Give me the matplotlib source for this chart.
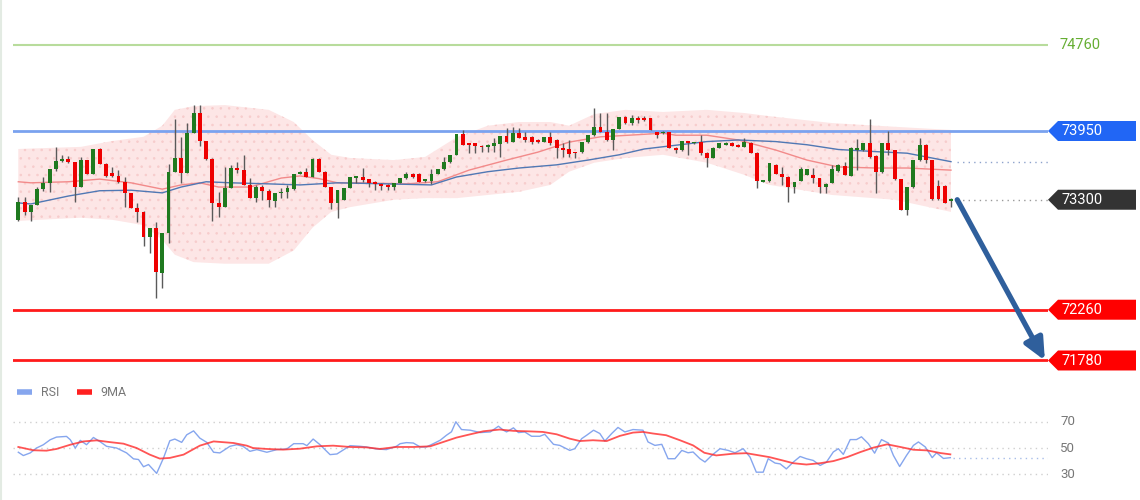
import numpy as np
import matplotlib
matplotlib.use("Agg")
import matplotlib.pyplot as plt
from matplotlib import patches, transforms

plt.rcParams['font.family'] = ['Roboto', 'DejaVu Sans']
plt.rcParams['hatch.linewidth'] = 0.6

# ---------------- data ----------------
opens = [73110, 73280, 73185, 73250, 73400, 73460, 73590, 73665, 73685, 73655,
         73420, 73675, 73545, 73780, 73640, 73550, 73525, 73470, 73365, 73225,
         73185, 72950, 73035, 72610, 72990, 73565, 73695, 73555, 73930, 74120,
         73855, 73685, 73270, 73230, 73410, 73600, 73580, 73440, 73315, 73420,
         73385, 73290, 73365, 73370, 73400, 73545, 73565, 73515, 73685, 73565,
         73420, 73270, 73300, 73410, 73505, 73515, 73495, 73470, 73450, 73440,
         73420, 73460, 73505, 73545, 73545, 73480, 73475, 73545, 73590, 73655,
         73720, 73920, 73835, 73835, 73805, 73795, 73805, 73825, 73900, 73845,
         73930, 73890, 73895, 73865, 73845, 73895, 73865, 73790, 73780, 73750,
         73750, 73845, 73910, 73990, 73940, 73865, 73970, 74080, 74025, 74070,
         74070, 74070, 73940, 73930, 73940, 73790, 73770, 73855, 73835, 73845,
         73745, 73695, 73790, 73820, 73835, 73815, 73800, 73840, 73745, 73470,
         73475, 73630, 73545, 73515, 73420, 73480, 73535, 73535, 73505, 73420,
         73460, 73570, 73620, 73525, 73775, 73770, 73835, 73715, 73560, 73835,
         73770, 73495, 73205, 73420, 73675, 73820, 73675, 73430, 73430, 73285]
highs = [73330, 73325, 73250, 73420, 73515, 73590, 73800, 73720, 73710, 73660,
         73705, 73680, 73780, 73785, 73645, 73610, 73580, 73515, 73365, 73270,
         73190, 73035, 73090, 72990, 73640, 74065, 73895, 74025, 74195, 74195,
         73860, 73690, 73375, 73610, 73630, 73660, 73725, 73505, 73440, 73440,
         73400, 73365, 73410, 73440, 73545, 73570, 73600, 73690, 73690, 73570,
         73425, 73395, 73415, 73515, 73520, 73600, 73500, 73475, 73455, 73445,
         73460, 73510, 73560, 73550, 73550, 73500, 73590, 73595, 73705, 73725,
         73925, 73960, 73840, 73840, 73815, 73830, 73880, 73905, 73980, 73990,
         73980, 73940, 73900, 73870, 73895, 73940, 73870, 73835, 73865, 73755,
         73850, 73915, 74170, 74120, 74120, 73970, 74085, 74090, 74100, 74090,
         74090, 74075, 73945, 73950, 73945, 73795, 73860, 73860, 73850, 73910,
         73750, 73795, 73840, 73845, 73845, 73825, 73885, 73845, 73750, 73490,
         73650, 73635, 73610, 73520, 73470, 73610, 73595, 73600, 73510, 73455,
         73630, 73635, 73660, 73795, 73875, 73840, 74065, 73720, 73840, 73950,
         73775, 73500, 73425, 73680, 73885, 73825, 73680, 73485, 73435, 73315]
lows = [73100, 73155, 73100, 73250, 73385, 73375, 73570, 73655, 73650, 73280,
        73420, 73540, 73540, 73635, 73515, 73515, 73460, 73230, 73220, 73090,
        72865, 72795, 72370, 72465, 72890, 73560, 73460, 73550, 73930, 73810,
        73680, 73100, 73140, 73230, 73410, 73555, 73440, 73315, 73280, 73300,
        73230, 73230, 73315, 73320, 73395, 73540, 73515, 73515, 73560, 73420,
        73215, 73130, 73300, 73410, 73460, 73470, 73420, 73390, 73390, 73395,
        73395, 73455, 73500, 73510, 73465, 73470, 73450, 73540, 73580, 73650,
        73720, 73815, 73740, 73740, 73750, 73750, 73750, 73705, 73840, 73845,
        73880, 73845, 73830, 73840, 73845, 73820, 73695, 73705, 73705, 73695,
        73745, 73840, 73905, 73940, 73860, 73770, 73965, 74020, 74005, 74025,
        74040, 73955, 73885, 73925, 73785, 73745, 73765, 73725, 73830, 73725,
        73610, 73690, 73785, 73815, 73805, 73795, 73795, 73740, 73410, 73465,
        73470, 73540, 73440, 73280, 73365, 73475, 73530, 73460, 73365, 73365,
        73455, 73565, 73530, 73520, 73580, 73765, 73690, 73365, 73555, 73725,
        73490, 73200, 73155, 73415, 73670, 73645, 73300, 73300, 73265, 73230]
closes = [73280, 73185, 73250, 73400, 73460, 73590, 73665, 73685, 73655, 73420,
          73675, 73545, 73780, 73640, 73525, 73525, 73470, 73365, 73225, 73185,
          72950, 73035, 72620, 72990, 73565, 73695, 73555, 73930, 74120, 73855,
          73685, 73270, 73230, 73410, 73600, 73580, 73440, 73315, 73420, 73385,
          73300, 73365, 73375, 73410, 73545, 73565, 73515, 73685, 73565, 73420,
          73270, 73390, 73410, 73515, 73520, 73490, 73460, 73450, 73430, 73420,
          73460, 73505, 73545, 73515, 73470, 73495, 73545, 73590, 73655, 73720,
          73920, 73820, 73820, 73805, 73795, 73815, 73835, 73900, 73845, 73930,
          73885, 73865, 73845, 73845, 73890, 73835, 73790, 73770, 73735, 73745,
          73845, 73910, 73990, 73940, 73865, 73970, 74080, 74025, 74070, 74055,
          74055, 73960, 73915, 73940, 73790, 73770, 73855, 73835, 73845, 73745,
          73695, 73790, 73835, 73835, 73810, 73800, 73845, 73745, 73480, 73485,
          73645, 73545, 73515, 73420, 73470, 73590, 73590, 73505, 73420, 73450,
          73590, 73630, 73535, 73790, 73790, 73835, 73705, 73560, 73835, 73770,
          73495, 73205, 73420, 73675, 73820, 73675, 73305, 73305, 73270, 73305]

# bollinger band edges (candle index -> price)
band_idx = [0, 10, 15, 20, 23, 25, 28, 33, 40, 44, 47, 50, 53, 60, 65, 70, 75,
            80, 85, 88, 92, 97, 103, 110, 116, 120, 130, 140, 149]
band_upper = [73780, 73800, 73855, 73895, 74000, 74150, 74185, 74195, 74150, 74035,
              73865, 73725, 73695, 73675, 73705, 73890, 74000, 74035, 74035, 74000,
              74110, 74150, 74130, 74150, 74120, 74090, 74025, 73990, 73960]
band_lower = [73100, 73130, 73110, 73060, 72920, 72780, 72710, 72695, 72695, 72820,
              73035, 73185, 73230, 73300, 73315, 73315, 73345, 73375, 73440, 73565,
              73650, 73695, 73725, 73650, 73535, 73440, 73345, 73300, 73185]

# moving averages
red_ma_idx = [0, 2, 8, 13, 18, 23, 26, 29, 32, 37, 42, 45, 48, 51, 54, 62, 67, 72,
              78, 83, 88, 93, 99, 103, 105, 110, 115, 121, 126, 131, 137, 142, 149]
red_ma = [73470, 73460, 73470, 73495, 73460, 73400, 73440, 73460, 73420, 73420,
          73505, 73525, 73500, 73460, 73460, 73450, 73470, 73580, 73675, 73750,
          73845, 73895, 73915, 73930, 73910, 73910, 73865, 73770, 73675, 73610,
          73600, 73600, 73580]
blue_ma_idx = [0, 2, 8, 13, 18, 23, 26, 30, 34, 40, 45, 51, 59, 66, 70, 75, 80, 86,
               91, 96, 100, 105, 110, 115, 121, 126, 131, 137, 142, 149]
blue_ma = [73270, 73260, 73335, 73385, 73390, 73365, 73420, 73470, 73460, 73450,
           73440, 73460, 73450, 73440, 73515, 73565, 73600, 73630, 73675, 73725,
           73780, 73815, 73850, 73865, 73850, 73820, 73775, 73755, 73740, 73660]

# key levels
level_top = 74760
level_resist = 73950
last_price = 73300
level_sup1 = 72260
level_sup2 = 71780

# RSI panel
rsi_x = [0, 0.8, 1.9, 2.9, 4, 5.1, 6.1, 7.7, 8.3, 9.1, 9.9, 10.9, 12, 13, 14.1, 15.7,
         17.3, 18.4, 19.2, 20, 20.8, 22.1, 23.2, 24.2, 25, 26.1, 26.9, 28, 29, 30.1,
         31.2, 32.2, 33.8, 34.9, 35.9, 37, 38.1, 39.7, 41.3, 42.9, 44, 45.5, 46.1,
         47.1, 48.2, 49.8, 50.9, 53, 54.6, 55.6, 57.2, 58.8, 60.4,
         61, 62, 63.1, 64.2, 65.2, 66.3, 67.4, 68.4, 69.2, 69.9, 70.8, 72.2, 73.8,
         75.4, 76.7, 77.5, 78, 79.1, 79.9, 80.9, 82, 83.3, 84.1, 85.5, 86.5, 88.1,
         88.9, 90, 90.8, 91.9, 92.9, 93.7, 94.8, 95.8, 96.9, 98.2, 99.8, 100.6,
         101.7, 102.8, 103.8, 104.9, 106, 107, 107.8, 108.9, 109.7, 110.8, 112.1,
         113.4, 114.5, 115.8, 116.9, 117.9, 119, 119.8, 120.9,
         121.7, 122.7, 123.8, 124.9, 125.9, 127, 128.1, 129.1, 130.2, 131, 131.8,
         132.9, 133.9, 134.7, 135.8, 136.8, 137.9, 139, 139.8, 140.8, 141.9, 143,
         143.8, 144.9, 146, 146.7, 147.8, 148.9]
rsi = [46.8, 44.3, 46.3, 50, 52.5, 56.3, 58.3, 58.8, 56.3, 50, 55.8, 52.5, 58, 55,
       51.3, 50, 46.3, 41.8, 41.3, 35.8, 37.5, 30.8, 42.5, 55.5, 56.8, 54.3, 60, 63,
       57.5, 54.3, 46.8, 46.3, 51.3, 52.5, 51.3, 47.5, 48.8, 46.8, 48.8, 49.3, 53.3,
       53.3, 51.8, 56.8, 52.5, 45, 45.5, 51.8, 51.3, 50.8, 49.3, 48.8, 51.3,
       53.3, 54.1, 53.8, 50.8, 50.8, 53.3, 55.9, 59.7, 62.3, 69.9, 64, 63.5, 61.7,
       62.2, 66.5, 63.5, 62.2, 65.3, 61.7, 62.2, 58.9, 58.9, 60.4, 52.8, 52, 48.2,
       49.5, 57.1, 59.7, 63.5, 61, 55.3, 61, 65.6, 62.2, 64, 63.5, 54.6, 52, 52.8,
       41.9, 41.9, 48.2, 46.4, 47, 41.9, 39.4, 44.5, 49.5, 48.2, 46.4, 49.5, 43.1,
       31.7, 31.7, 41.9, 38.6,
       38, 34.2, 39.3, 43.6, 41.9, 40.6, 36.8, 39.3, 47, 49.5, 45.2, 56.4, 56.4,
       58.5, 53.3, 46.1, 56.4, 53.8, 44.4, 36, 44.4, 52, 54.6, 50.8, 42.7, 46.4,
       42.1, 42.7]
ma9_x = [0, 2.4, 4.5, 6.1, 8.3, 10.4, 12.5, 14.6, 16.8, 18.9, 21, 22.6, 24.2, 26.4,
         29, 31.2, 34.4, 36.5, 37.5, 39.7, 42.3, 45, 47.7, 50.3, 53, 55.6, 57.8,
         60.4, 63.1, 65.8, 67.9, 70, 72.2, 74.3, 76.9, 79.1, 81.2, 83.8, 86, 88.1,
         89.7, 91.8, 94, 96.1, 98.2, 99.8, 101.4, 103.5, 105.7, 107.8, 109.6, 111.5,
         114.2, 116.3, 118.4, 120, 122.1, 123.8, 125.9, 128.1, 130.2, 132.4, 134.5,
         136.6, 138.8, 140.9, 143, 145.2, 147.3, 148.9]
ma9 = [50.8, 48.3, 48, 49.3, 52.5, 55, 55.8, 54.5, 53.3, 50, 45, 42, 42.5, 45, 51.8,
       55, 53.8, 51.8, 50, 49.3, 48.8, 49.5, 51.3, 51.8, 50.8, 50.5, 49.3, 50.8,
       50.8, 51.3, 54.6, 57.9, 60.4, 62.7, 64, 63, 62.7, 62.2, 60.4, 57.1, 55.3,
       55.9, 55.3, 59.2, 61.7, 62.2, 61, 59.7, 55.9, 52, 46.4, 44.4, 45.7, 46.1,
       44.4, 43.1, 40.6, 38.5, 37.5, 38.5, 40.1, 43.1, 46.9, 50.3, 52.8, 50.8,
       48.7, 48.2, 46.2, 45.2]
rsi_ticks = [30, 50, 70]

# ---------------- figure layout (pixel based) ----------------
W, H = 1140, 500
fig = plt.figure(figsize=(W / 100, H / 100), dpi=100)


def px_box(left, top, right, bottom):
    return [left / W, 1 - bottom / H, (right - left) / W, (bottom - top) / H]


ax = fig.add_axes(px_box(13, 30, 1048, 370))
rsi_ax = fig.add_axes(px_box(13, 405, 1048, 490))
overlay = fig.add_axes([0, 0, 1, 1], zorder=5)
overlay.set_xlim(0, W)
overlay.set_ylim(H, 0)
overlay.axis('off')
overlay.patch.set_alpha(0)

xlim = (-0.85, 164.5)

# ---------------- price panel ----------------
ax.set_xlim(*xlim)
ax.set_ylim(71690, 74905)
ax.axis('off')

# band: pale pink with a faint dotted texture
ax.fill_between(band_idx, band_lower, band_upper, facecolor='#fde6e6',
                edgecolor='#f7cccc', hatch='..', lw=0, zorder=1)
ax.plot(red_ma_idx, red_ma, color='#f28a8a', lw=1, zorder=2)
ax.plot(blue_ma_idx, blue_ma, color='#5078b4', lw=1, zorder=2)

idx = np.arange(len(opens))
o = np.array(opens)
c = np.array(closes)
up = c >= o
body_bottom = np.minimum(o, c)
body_height = np.maximum(np.abs(c - o), 10)
ax.vlines(idx, lows, highs, color='#5a5a5a', lw=1, zorder=3)
ax.bar(idx, body_height, bottom=body_bottom, width=0.62,
       color=np.where(up, '#1f7a1f', '#ee0000'), lw=0, zorder=4)

ax.axhline(level_top, color='#b8dc9c', lw=1.5, zorder=2)
ax.axhline(level_resist, color='#7aa2ef', lw=2, zorder=2)
ax.axhline(level_sup1, color='#ff1a1a', lw=2, zorder=2)
ax.axhline(level_sup2, color='#ff1a1a', lw=2, zorder=2)

# dotted tails to the right
ax.plot([blue_ma_idx[-1] + 1, xlim[1]], [blue_ma[-1]] * 2, ls=(0, (1, 3)),
        color='#8ea3cc', lw=1)
ax.plot([len(opens), xlim[1]], [last_price] * 2, ls=(0, (1, 3)), color='#9a9a9a', lw=1)

# forecast arrow
ax.annotate('', xy=(164, level_sup2), xytext=(150, last_price),
            arrowprops=dict(arrowstyle='-|>,head_length=1.3,head_width=0.6',
                            color='#2f5f9c', lw=3.8, mutation_scale=10,
                            shrinkA=0, shrinkB=0),
            annotation_clip=False, zorder=6)


def to_px(price):
    return H - ax.transData.transform((0, price))[1]


def price_tag(price, text, face):
    y = to_px(price)
    overlay.add_patch(patches.Polygon(
        [(1048, y), (1058, y - 10), (1136, y - 10), (1136, y + 10), (1058, y + 10)],
        closed=True, fc=face, ec='none'))
    overlay.text(1061, y + 0.5, text, color='white', fontsize=10.5,
                 va='center', ha='left')


overlay.text(1060, to_px(level_top), str(level_top), color='#66ae33',
             fontsize=10.5, va='center', ha='left')
price_tag(level_resist, str(level_resist), '#2166f5')
price_tag(last_price, str(last_price), '#333333')
price_tag(level_sup1, str(level_sup1), '#ff0000')
price_tag(level_sup2, str(level_sup2), '#ff0000')

# left border
overlay.plot([1, 1], [0, H], color='#e3ebe3', lw=1.5)

# ---------------- RSI panel ----------------
rsi_ax.set_xlim(*xlim)
rsi_ax.set_ylim(18.2, 82.6)
rsi_ax.axis('off')
for v in rsi_ticks:
    rsi_ax.axhline(v, color='#cfcfcf', ls=(0, (1, 3)), lw=1)
lab_tr = transforms.blended_transform_factory(rsi_ax.transAxes, rsi_ax.transData)
for v in rsi_ticks:
    rsi_ax.text(1.0116, v, str(v), transform=lab_tr, color='#777777',
                fontsize=9.5, va='center', ha='left', clip_on=False)

rsi_ax.plot(rsi_x, rsi, color='#86a6ee', lw=1)
rsi_ax.plot(ma9_x, ma9, color='#ff2a2a', lw=1.3, alpha=0.8)
rsi_ax.plot([rsi_x[-1] + 0.5, xlim[1]], [rsi[-1]] * 2, ls=(0, (1, 3)),
            color='#a8bde8', lw=1)

# legend
overlay.plot([17, 32], [392, 392], color='#86a6ee', lw=4, solid_capstyle='butt')
overlay.text(41, 392, 'RSI', color='#777777', fontsize=9, va='center')
overlay.plot([77, 92], [392, 392], color='#ff2020', lw=4, solid_capstyle='butt')
overlay.text(100, 392, '9MA', color='#777777', fontsize=9, va='center')

fig.savefig('out.png', dpi=100, facecolor='white')
